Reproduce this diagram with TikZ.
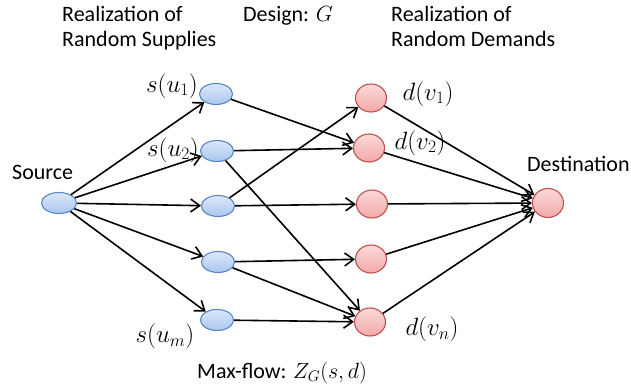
\RequirePackage{fix-cm}
\documentclass[tikz,border=0pt]{standalone}
\usepackage{fontspec}
\setmainfont{Carlito}
\usepackage{tikz}
\usetikzlibrary{positioning, arrows.meta, shapes.geometric}
\definecolor{supline}{HTML}{5A86C4}
\definecolor{suptop}{HTML}{DCE8FA}
\definecolor{supbot}{HTML}{A9C6EE}
\definecolor{demline}{HTML}{C0504D}
\definecolor{demtop}{HTML}{FBD9D9}
\definecolor{dembot}{HTML}{F2A9A9}
\tikzset{
  vsup/.style={ellipse, draw=supline, line width=1.1pt, top color=suptop,
               bottom color=supbot, minimum width=33pt, minimum height=21pt, inner sep=0pt},
  vdem/.style={ellipse, draw=demline, line width=1.1pt, top color=demtop,
               bottom color=dembot, minimum width=31pt, minimum height=28pt, inner sep=0pt},
  vtxt/.style={font=\fontsize{22}{25}\selectfont, align=left, inner sep=0pt, anchor=base west},
  vlbl/.style={font=\fontsize{25}{28}\selectfont},
  var/.style={-{Straight Barb[length=9pt, width=13pt]}, line width=1.6pt},
}
\begin{document}
\begin{tikzpicture}[x=1pt, y=-1pt]
        \useasboundingbox (0,0) rectangle (631,387);
        % vertices
        \node[vsup, minimum width=35pt](src) at (59,203){};
        \node[vsup](u1) at (216,94){};
        \node[vsup](u2) at (217,151){};
        \node[vsup](u3) at (218,206){};
        \node[vsup](u4) at (218,262){};
        \node[vsup](u5) at (217,320){};
        \node[vdem](v1) at (371,98){};
        \node[vdem](v2) at (369,148){};
        \node[vdem](v3) at (372,204){};
        \node[vdem](v4) at (371,259){};
        \node[vdem](v5) at (370,322){};
        \node[vdem, minimum height=29pt](dst) at (548,203){};
        % texts (base = last line)
        \node[vtxt](tsup) at (62,47){Realization of\\Random Supplies};
        \node[vtxt](tdes) at (243,22){Design: $G$};
        \node[vtxt](tdem) at (391,47){Realization of\\Random Demands};
        \node[vtxt](tsrc) at (12,180){Source};
        \node[vtxt](tdst) at (527,172){Destination};
        \node[vtxt](tmax) at (197,378){Max-flow: $Z_G(s,d)$};
        \node[vlbl](lu1) at (172,86){$s(u_1)$};
        \node[vlbl](lu2) at (173,150){$s(u_2)$};
        \node[vlbl](lum) at (165,336){$s(u_m)$};
        \node[vlbl](lv1) at (428,94){$d(v_1)$};
        \node[vlbl](lv2) at (420,143){$d(v_2)$};
        \node[vlbl](lvn) at (432,329){$d(v_n)$};
        % edges
        \foreach \u in {u1,u2,u3,u4,u5} \draw[var](src)--(\u);
        \draw[var](u1)--(v2); \draw[var](u2)--(v2); \draw[var](u2)--(v5);
        \draw[var](u3)--(v1); \draw[var](u3)--(v3); \draw[var](u4)--(v4);
        \draw[var](u4)--(v5); \draw[var](u5)--(v5);
        \foreach \v in {v1,v2,v3,v4,v5} \draw[var](\v)--(dst);
      \end{tikzpicture}
\end{document}
